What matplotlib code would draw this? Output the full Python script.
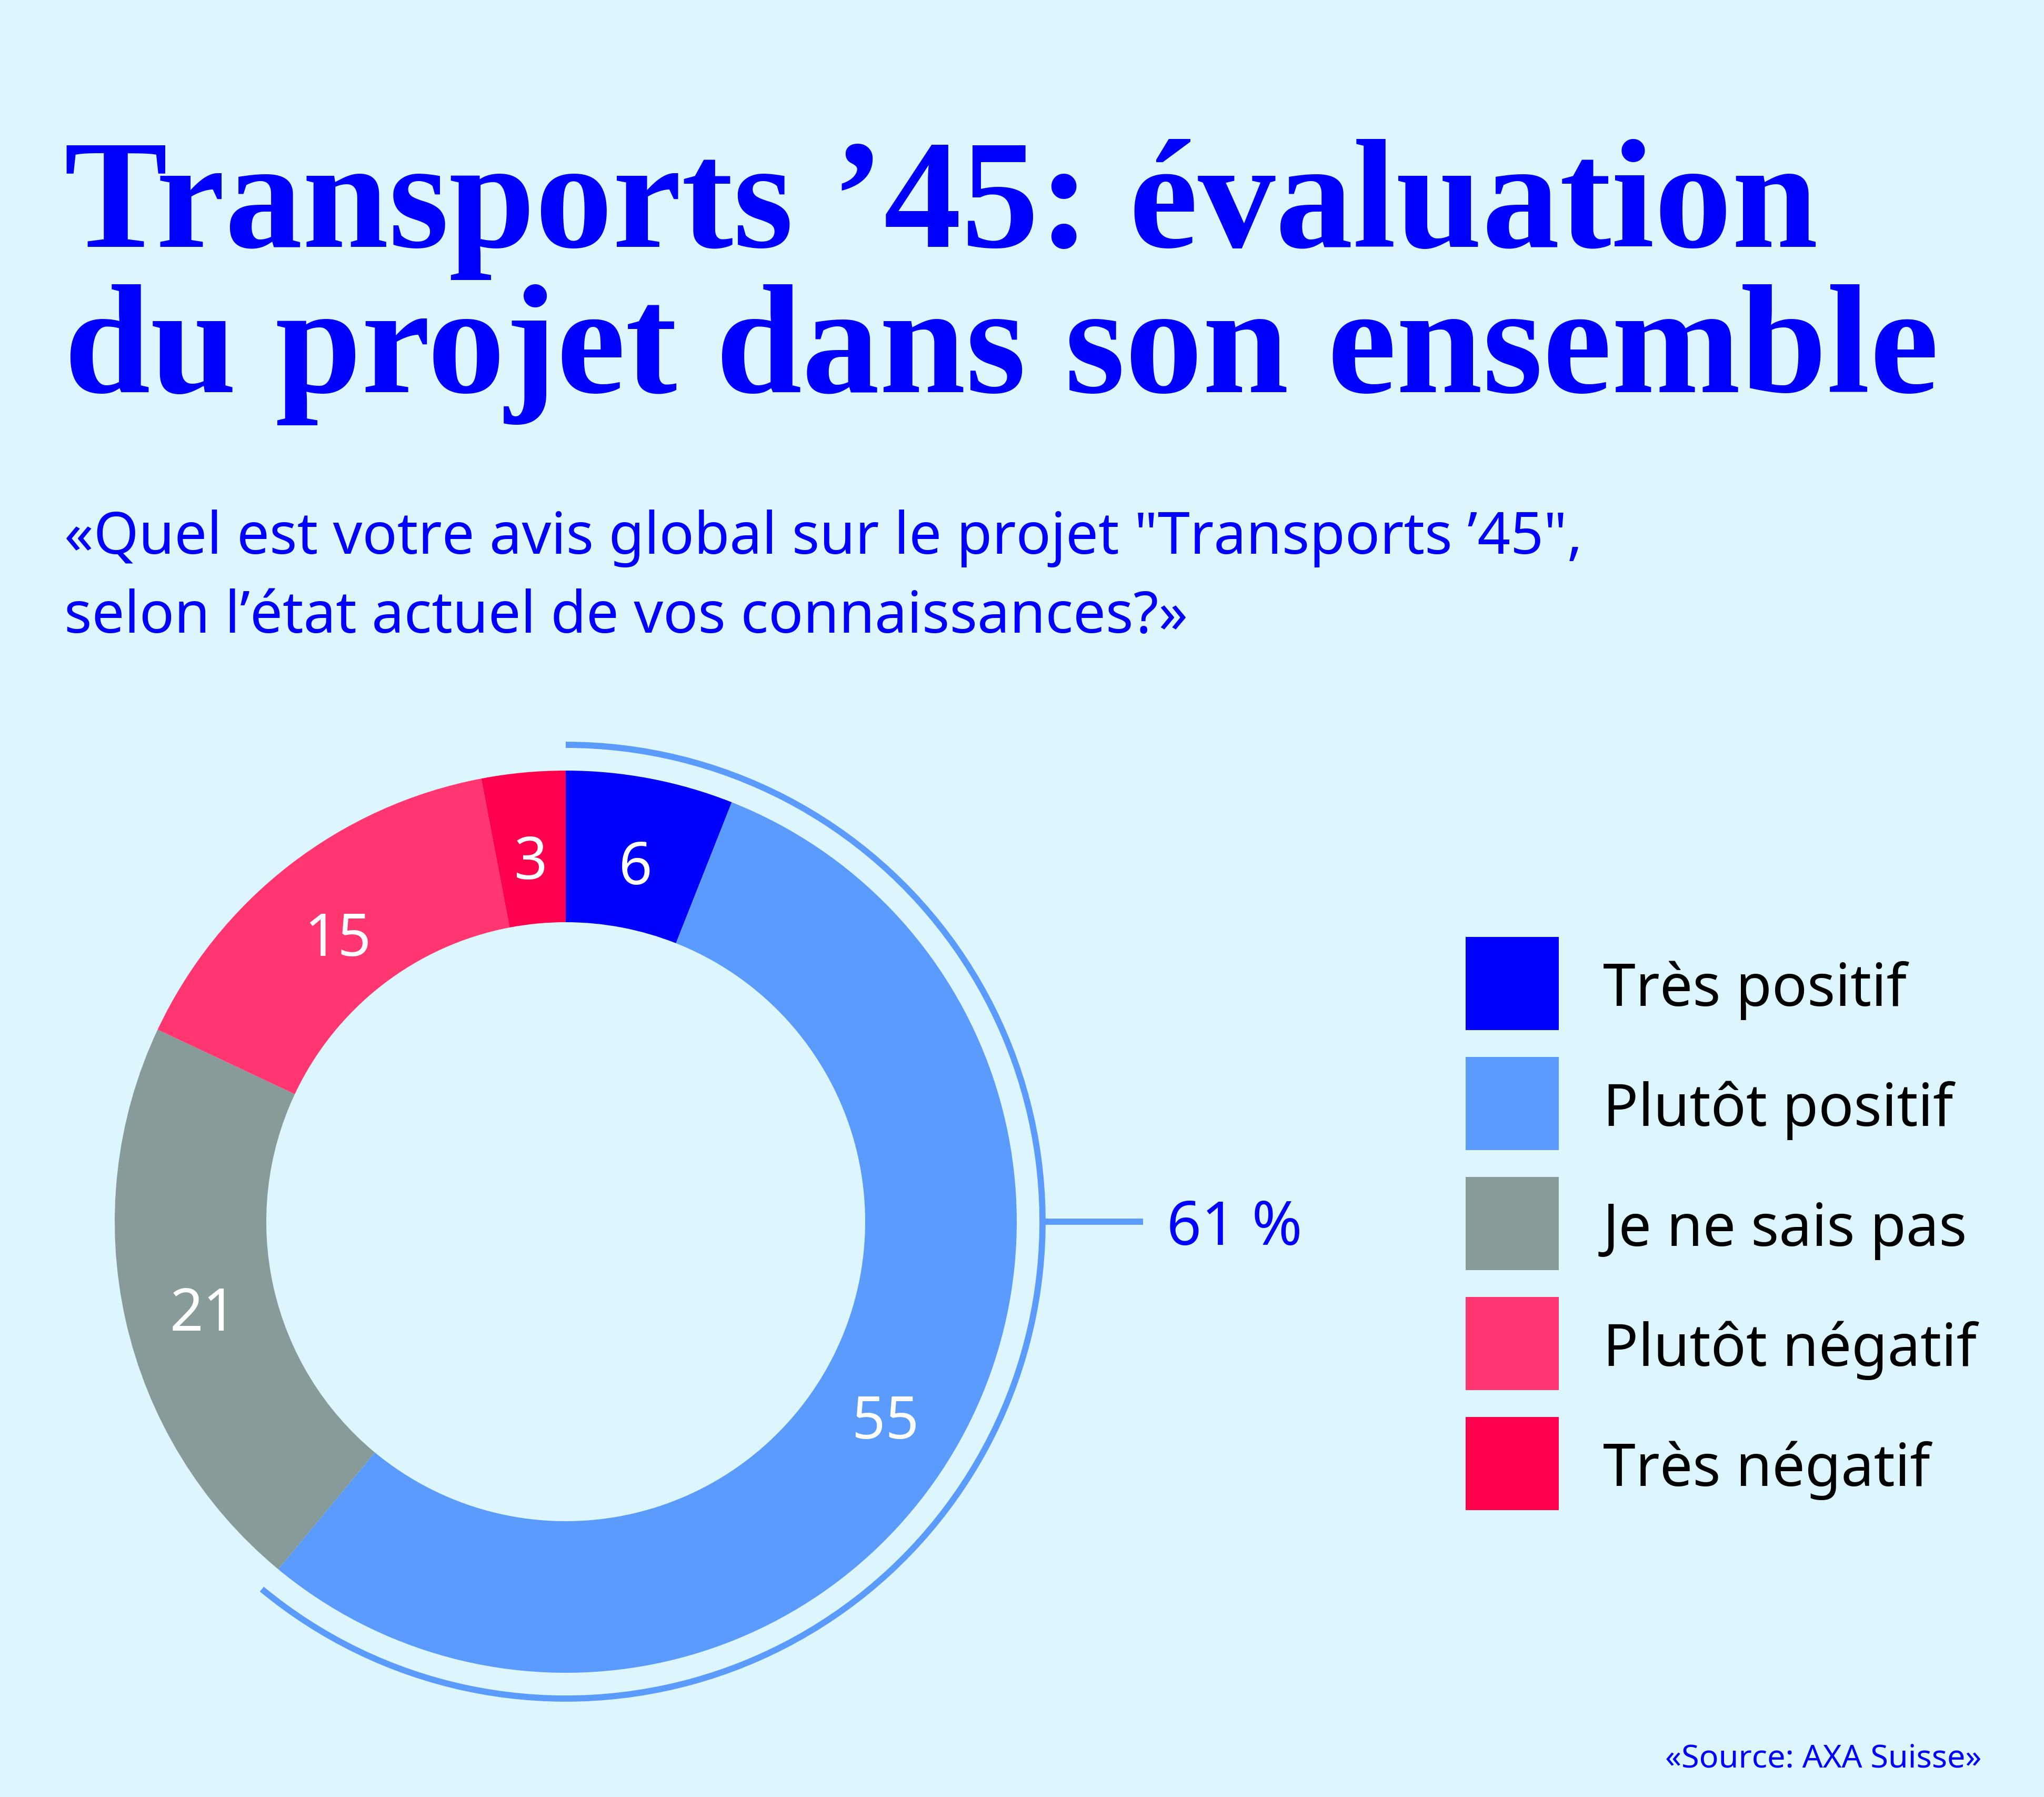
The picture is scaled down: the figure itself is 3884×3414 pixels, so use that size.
import matplotlib
matplotlib.use("Agg")
import matplotlib.pyplot as plt
from matplotlib.patches import Arc, Rectangle
import numpy as np

# data
categories = ['Très positif', 'Plutôt positif', 'Je ne sais pas', 'Plutôt négatif', 'Très négatif']
values = [6, 55, 21, 15, 3]
colors = ['#0000FF', '#5B9BFE', '#879B9B', '#FF3670', '#FF004D']
positive_total = '61 %'

title_lines = ['Transports ’45: évaluation', 'du projet dans son ensemble']
question_lines = ['«Quel est votre avis global sur le projet "Transports ’45",',
                  'selon l’état actuel de vos connaissances?»']
source = '«Source: AXA Suisse»'

BG = '#DDF6FD'
BLUE = '#0000FF'
W, H = 3884, 3414

fig = plt.figure(figsize=(W / 100, H / 100), dpi=100, facecolor=BG)
ax = fig.add_axes([0, 0, 1, 1])
ax.set_facecolor(BG)

# pixel coordinates, y measured from the top
def Y(y):
    return H - y

cx, cy = 1075, Y(2321)
R_out, R_in = 857, 569

wedges, _ = ax.pie(values, colors=colors, startangle=90, counterclock=False,
                   radius=R_out, center=(cx, cy),
                   wedgeprops=dict(width=R_out - R_in, linewidth=0))

# value labels in the ring
r_lab = 0.824 * R_out
cum = np.cumsum([0] + values[:-1])
for v, c0 in zip(values, cum):
    ang = np.deg2rad(90 - 360 * (c0 + v / 2) / sum(values))
    ax.text(cx + r_lab * np.cos(ang), cy + r_lab * np.sin(ang) - 10, str(v),
            color='white', fontsize=80, family='Noto Sans',
            ha='center', va='center_baseline')

# bracket around the positive answers
pos = values[0] + values[1]
R_br = 906
ax.add_patch(Arc((cx, cy), 2 * R_br, 2 * R_br, theta1=90 - 360 * pos / sum(values), theta2=90,
                 color='#5B9BFE', linewidth=8.5))
ax.plot([cx + R_br, 2172], [cy, cy], color='#5B9BFE', linewidth=8.5, solid_capstyle='butt')
ax.text(2217, cy, positive_total, color=BLUE, fontsize=83, family='Noto Sans',
        ha='left', va='center_baseline')

# legend
for i, (lab, col) in enumerate(zip(categories, colors)):
    top = 1780 + i * 228
    ax.add_patch(Rectangle((2785, Y(top + 177)), 177, 177, facecolor=col, edgecolor='none'))
    ax.text(3046, Y(top + 88), lab, color='black', fontsize=80, family='Noto Sans',
            ha='left', va='center_baseline')

# texts
for line, base in zip(title_lines, [469, 745]):
    ax.text(122, Y(base), line, color=BLUE, fontsize=212, family='Liberation Serif',
            fontweight='bold', ha='left', va='baseline')
for line, base in zip(question_lines, [1052, 1202]):
    ax.text(122, Y(base), line, color=BLUE, fontsize=79, family='Noto Sans',
            ha='left', va='baseline')
ax.text(3766, Y(3358), source, color=BLUE, fontsize=44, family='Noto Sans',
        ha='right', va='baseline')

ax.set_xlim(0, W)
ax.set_ylim(0, H)
ax.set_aspect('auto')
ax.axis('off')

fig.savefig('out.png', dpi=100, facecolor=BG)
